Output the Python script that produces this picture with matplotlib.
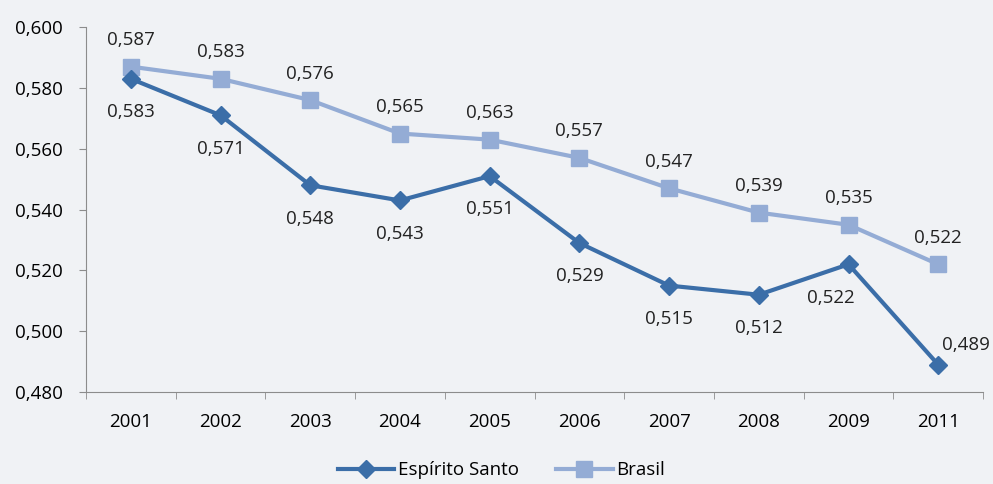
import numpy as np
import matplotlib
matplotlib.use('Agg')
from matplotlib import pyplot as plt

# data
anos = ['2001', '2002', '2003', '2004', '2005', '2006', '2007', '2008', '2009', '2011']
espirito_santo = [0.583, 0.571, 0.548, 0.543, 0.551, 0.529, 0.515, 0.512, 0.522, 0.489]
brasil = [0.587, 0.583, 0.576, 0.565, 0.563, 0.557, 0.547, 0.539, 0.535, 0.522]

bg = '#f0f2f5'
cor_es = '#3b6ea8'
cor_br = '#94acd5'

plt.rcParams['font.family'] = ['Open Sans', 'DejaVu Sans']
fs = 13.5

fig = plt.figure(figsize=(9.93, 4.84), dpi=100, facecolor=bg)
ax = fig.add_axes([0.0866, 0.19, 0.9034, 0.754], facecolor=bg)

x = np.arange(len(anos))
ax.plot(x, espirito_santo, color=cor_es, lw=3, marker='D', ms=9,
        label='Espírito Santo', zorder=3)
ax.plot(x, brasil, color=cor_br, lw=3, marker='s', ms=12,
        label='Brasil', zorder=2)


def fmt(v):
    return ('%.3f' % v).replace('.', ',')


# value labels (offsets in points)
for i, v in enumerate(brasil):
    ax.annotate(fmt(v), (x[i], v), xytext=(0, 19), textcoords='offset points',
                ha='center', va='center', fontsize=fs, color='#222222')
for i, v in enumerate(espirito_santo):
    off = (0, -24)
    if anos[i] == '2009':
        off = (-13, -24)
    elif anos[i] == '2011':
        off = (20, 14)
    ax.annotate(fmt(v), (x[i], v), xytext=off, textcoords='offset points',
                ha='center', va='center', fontsize=fs, color='#222222')

ax.set_ylim(0.480, 0.600)
ax.set_yticks(np.arange(0.480, 0.6001, 0.020))
ax.set_yticklabels([fmt(t) for t in np.arange(0.480, 0.6001, 0.020)])
ax.set_xlim(-0.5, len(anos) - 0.5)
ax.set_xticks(x)
ax.set_xticklabels(anos)
ax.set_xticks(np.arange(-0.5, len(anos), 1.0), minor=True)
ax.tick_params(axis='x', which='major', length=0, pad=15, labelsize=fs)
ax.tick_params(axis='x', which='minor', length=5, color='#8c8c8c', direction='out')
ax.tick_params(axis='y', length=5, color='#8c8c8c', pad=11.5, labelsize=fs)

for s in ['top', 'right']:
    ax.spines[s].set_visible(False)
for s in ['left', 'bottom']:
    ax.spines[s].set_color('#8c8c8c')

fig.legend(loc='lower center', bbox_to_anchor=(0.505, -0.025), ncol=2, frameon=False,
           fontsize=fs, handlelength=3, columnspacing=2.0, handletextpad=0.2)

plt.savefig('out.png', dpi=100, facecolor=bg)
